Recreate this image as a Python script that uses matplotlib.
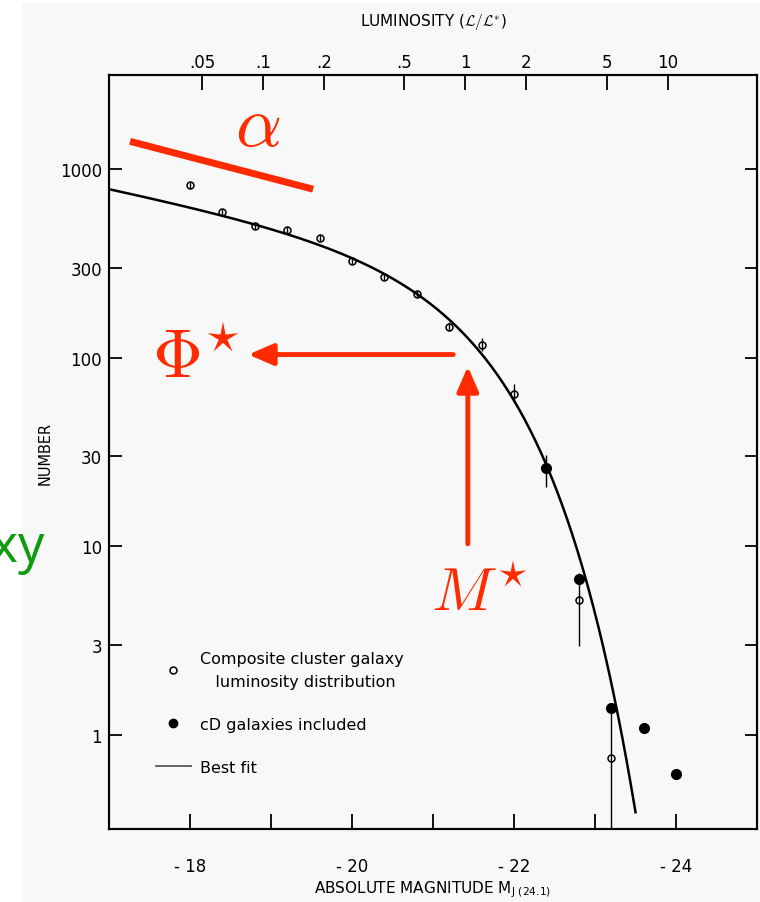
import numpy as np
import matplotlib
matplotlib.use("Agg")
import matplotlib.pyplot as plt
from matplotlib.lines import Line2D
from matplotlib.patches import Rectangle

# composite cluster galaxy counts (open circles) with error bar bounds
mag_open = [-18.0, -18.4, -18.8, -19.2, -19.6, -20.0, -20.4, -20.8, -21.2, -21.6, -22.0, -22.4, -22.8, -23.2]
n_open = [822, 593, 500, 476, 433, 327, 268, 219, 146, 117, 64, 26, 5.2, 0.75]
n_open_lo = [790, 570, 480, 458, 416, 314, 258, 210, 138, 109, 58, 20.7, 2.95, 0.05]
n_open_hi = [855, 617, 520, 495, 450, 340, 279, 228, 154, 128, 73, 30.5, 7.2, 1.46]

# counts with cD galaxies included (filled circles)
mag_cd = [-22.4, -22.8, -23.2, -23.6, -24.0]
n_cd = [26, 6.7, 1.39, 1.09, 0.62]

# best fit Schechter parameters
phi_star = 320.0
m_star = -21.5
alpha = -1.22
fit_range = (-17.0, -23.5)

# luminosity scale on top, L/L* = 1 at m_ref
m_ref = -21.4
lum_ticks = [0.05, 0.1, 0.2, 0.5, 1, 2, 5, 10]
lum_labels = [".05", ".1", ".2", ".5", "1", "2", "5", "10"]

y_ticks = [1, 3, 10, 30, 100, 300, 1000]
y_labels = ["1", "3", "10", "30", "100", "300", "1000"]

# slide overlay marks
alpha_seg_m = [-17.26, -19.52]
alpha_seg_n = [1406, 784]
phi_arrow = ((-21.25, 104), (-18.72, 104))
mstar_arrow = ((-21.43, 10.3), (-21.43, 90))

red = "#ff2a00"
paper = "#f8f8f8"


def schechter(m):
    lum = 10 ** (0.4 * (m_star - m))
    return phi_star * lum ** (alpha + 1) * np.exp(-lum)


plt.rcParams["mathtext.fontset"] = "cm"

fig = plt.figure(figsize=(7.6, 9.03), dpi=100)
fig.patch.set_facecolor("white")
fig.patches.append(Rectangle((22 / 760, 0), 1, 1 - 4 / 903, transform=fig.transFigure,
                             facecolor=paper, edgecolor="none", zorder=-10))

ax = fig.add_axes([109 / 760, 1 - 830 / 903, 648 / 760, 754 / 903])
ax.set_facecolor(paper)
ax.set_yscale("log")
ax.set_xlim(-17, -25)
ax.set_ylim(10 ** -0.5, 10 ** 3.5)

for s in ax.spines.values():
    s.set_linewidth(1.5)

# fit curve
mm = np.linspace(fit_range[0], fit_range[1], 400)
ax.plot(mm, schechter(mm), color="black", lw=1.8, zorder=3)

n_open_a = np.array(n_open)
yerr = [n_open_a - np.array(n_open_lo), np.array(n_open_hi) - n_open_a]
ax.errorbar(mag_open, n_open, yerr=yerr, fmt="o", ms=5, mfc="none", mec="black",
            mew=1.1, ecolor="black", elinewidth=1.0, capsize=0, zorder=4)
ax.plot(mag_cd, n_cd, "o", ms=7, color="black", zorder=5)

# ticks
ax.set_yticks(y_ticks)
ax.set_yticklabels(y_labels)
ax.yaxis.set_minor_locator(matplotlib.ticker.NullLocator())
mag_ticks = np.arange(-17, -25.5, -1)
ax.set_xticks(mag_ticks)
ax.set_xticklabels(["" if int(v) % 2 else "- %d" % abs(v) for v in mag_ticks])
ax.tick_params(axis="y", direction="in", length=9, width=1.3, labelsize=12, pad=5,
               right=True)
ax.tick_params(axis="x", direction="in", length=11, width=1.3, labelsize=12, pad=20)

ax.set_xlabel(r"ABSOLUTE MAGNITUDE M$_{\mathregular{J\ (24.1)}}$", fontsize=11, labelpad=3)
ax.set_ylabel("NUMBER", fontsize=10.5, labelpad=5)

# luminosity axis
top = ax.twiny()
top.set_xlim(ax.get_xlim())
top.set_xticks([m_ref - 2.5 * np.log10(v) for v in lum_ticks])
top.set_xticklabels(lum_labels)
top.tick_params(axis="x", direction="in", length=11, width=1.3, labelsize=12, pad=3)
top.set_xlabel(r"LUMINOSITY ($\mathcal{L}/\mathcal{L}^{*}$)", fontsize=11, labelpad=20)
for s in top.spines.values():
    s.set_linewidth(1.5)

legend_handles = [
    Line2D([], [], ls="none", marker="o", ms=5, mfc="none", mec="black", mew=1.1),
    Line2D([], [], ls="none", marker="o", ms=6, color="black"),
    Line2D([], [], color="0.35", lw=1.3),
]
legend_labels = ["Composite cluster galaxy\n   luminosity distribution",
                 "cD galaxies included", "Best fit"]
leg = ax.legend(legend_handles, legend_labels, loc="upper left", bbox_to_anchor=(0.05, 0.255),
                frameon=False, fontsize=11.5, handlelength=2.2, labelspacing=1.75,
                handletextpad=0.6)
for t in leg.get_texts():
    t.set_linespacing(1.65)

# overlay annotations
ax.plot(alpha_seg_m, alpha_seg_n, color=red, lw=5, solid_capstyle="butt", clip_on=False, zorder=6)
ax.text(-18.84, 1700, r"$\alpha$", color=red, fontsize=52, ha="center", va="center", zorder=6)
ax.annotate("", xy=phi_arrow[1], xytext=phi_arrow[0],
            arrowprops=dict(arrowstyle="-|>,head_length=1.5,head_width=0.65", color=red, lw=3.5,
                            shrinkA=0, shrinkB=0), zorder=6)
ax.annotate("", xy=mstar_arrow[1], xytext=mstar_arrow[0],
            arrowprops=dict(arrowstyle="-|>,head_length=1.5,head_width=0.65", color=red, lw=3.5,
                            shrinkA=0, shrinkB=0), zorder=6)
ax.text(-18.07, 100, r"$\Phi^{\star}$", color=red, fontsize=50, ha="center", va="center", zorder=6)
ax.text(-21.57, 5.6, r"$M^{\star}$", color=red, fontsize=44, ha="center", va="center", zorder=6)

fig.text(45 / 760, 1 - 562 / 903, "galaxy", color="#0f9a0f", fontsize=38, ha="right",
         va="baseline", family="Open Sans")

fig.savefig("out.png", dpi=100, facecolor=fig.get_facecolor())
